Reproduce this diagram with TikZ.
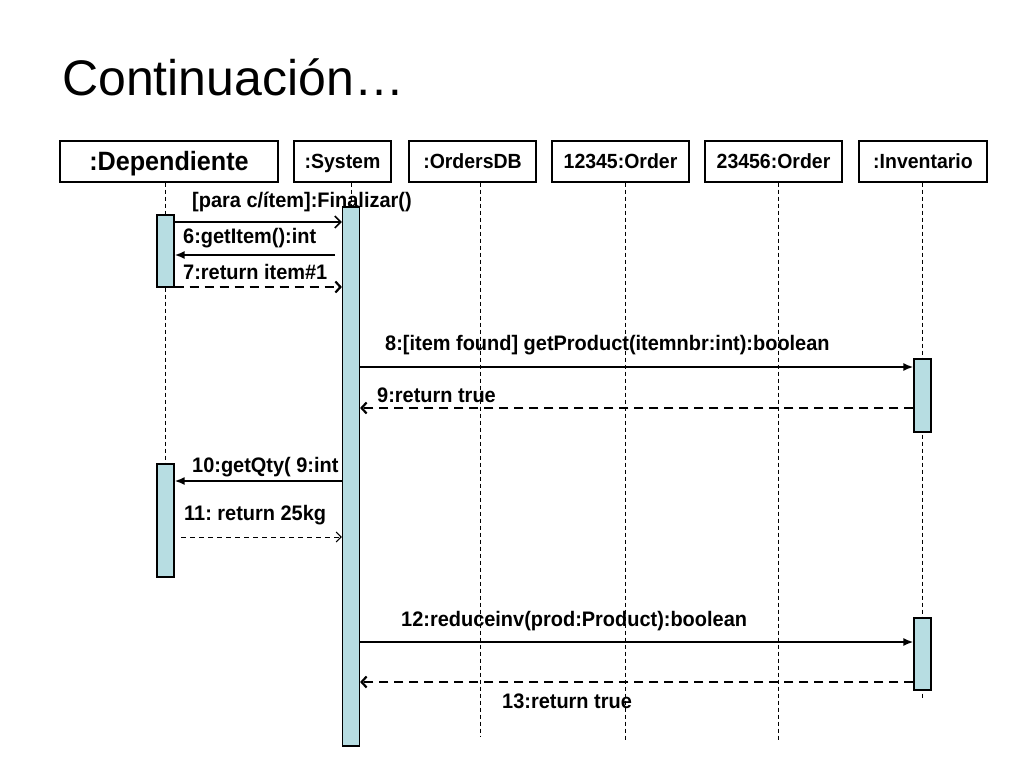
\documentclass[tikz,border=0pt]{standalone}
\usepackage{fontspec}
\setmainfont{Liberation Sans}
\newfontfamily\narrowfont[FakeStretch=0.95]{Liberation Sans}
\usetikzlibrary{arrows.meta}
\definecolor{actfill}{RGB}{183,221,226}
\frenchspacing

\tikzset{
  objbox/.style={draw,line width=1.3pt,inner sep=0pt,minimum height=41pt,text height=14.7pt,text depth=0pt,
    font=\narrowfont\bfseries\fontsize{20.5}{20.5}\selectfont},
  actbox/.style={draw,line width=1.2pt,fill=actfill,inner sep=0pt,minimum width=17pt},
  lifeline/.style={dashed,dash pattern=on 4pt off 3pt,line width=1pt},
  msglabel/.style={anchor=west,inner sep=0pt,
    font=\narrowfont\bfseries\fontsize{21}{21}\selectfont},
  call/.style={line width=1.8pt,-{Latex[length=10pt,width=8pt]}},
  reply/.style={line width=2.6pt,dashed,dash pattern=on 9pt off 6pt,-{Straight Barb[length=5pt,width=11pt,line width=2.2pt]}},
  async/.style={line width=1.6pt,-{Straight Barb[length=6pt,width=12pt]}}
}

\begin{document}
\begin{tikzpicture}[x=1pt,y=-1pt]
  \useasboundingbox (0,0) rectangle (1024,768);

  \node[anchor=base west,inner sep=0pt,font=\fontsize{50}{50}\selectfont] (title) at (62,95) {Continuación…};

  % objects
  \node[objbox,minimum width=218pt,text height=18.5pt,font=\narrowfont\bfseries\fontsize{26.5}{26.5}\selectfont] (dep) at (169,161.5) {:Dependiente};
  \node[objbox,minimum width=97pt]  (sys) at (342.5,161.5) {:System};
  \node[objbox,minimum width=127pt] (odb) at (472.5,161.5) {:OrdersDB};
  \node[objbox,minimum width=137pt] (ordA) at (620.5,161.5) {12345:Order};
  \node[objbox,minimum width=137pt] (ordB) at (773.5,161.5) {23456:Order};
  \node[objbox,minimum width=128pt] (inv) at (923,161.5) {:Inventario};

  % lifelines
  \draw[lifeline] (dep.south -| 165,0) -- (165,464);
  \draw[lifeline] (sys.south -| 351,0) -- (351,207);
  \draw[lifeline] (odb.south -| 480,0) -- (480,736);
  \draw[lifeline] (ordA.south -| 625,0) -- (625,740);
  \draw[lifeline] (ordB.south -| 778,0) -- (778,740);
  \draw[lifeline] (inv.south -| 922,0) -- (922,698);

  % activations
  \node[actbox,minimum height=539pt] (sysact) at (351,476.5) {};
  \node[actbox,minimum height=72pt]  (depactA) at (165.5,251) {};
  \node[actbox,minimum height=113pt] (depactB) at (165.5,520.5) {};
  \node[actbox,minimum height=73pt]  (invactA) at (922.5,395.5) {};
  \node[actbox,minimum height=72pt]  (invactB) at (922.5,654) {};

  % messages
  \draw[async] (depactA.east |- 0,222) -- (sysact.west |- 0,222);
  \node[msglabel] (mFin) at (192,202) {[para c/ítem]:Finalizar()};

  \draw[call] (335,255) -- (depactA.east |- 0,255);
  \node[msglabel] (mGet) at (183,238) {6:getItem():int};

  \draw[reply,line width=2pt] (depactA.east |- 0,287) -- (sysact.west |- 0,287);
  \node[msglabel] (mRet) at (183,272) {7:return item\#1};

  \draw[call] (sysact.east |- 0,367) -- (invactA.west |- 0,367);
  \node[msglabel] (mProd) at (385,345) {8:[item found] getProduct(itemnbr:int):boolean};

  \draw[reply] (invactA.west |- 0,408) -- (sysact.east |- 0,408);
  \node[msglabel] (mTrue) at (377,395) {9:return true};

  \draw[call] (sysact.west |- 0,481) -- (depactB.east |- 0,481);
  \node[msglabel] (mQty) at (192,467) {10:getQty( 9:int};

  \draw[line width=1pt,dashed,dash pattern=on 5pt off 4pt,-{Straight Barb[length=5pt,width=10pt]}] (181,537) -- (sysact.west |- 0,537);
  \node[msglabel] (mKg) at (184,515) {11: return 25kg};

  \draw[call] (sysact.east |- 0,642) -- (invactB.west |- 0,642);
  \node[msglabel] (mRed) at (401,621) {12:reduceinv(prod:Product):boolean};

  \draw[reply] (invactB.west |- 0,682) -- (sysact.east |- 0,682);
  \node[msglabel] (mTrue2) at (502,701) {13:return true};
\end{tikzpicture}
\end{document}
